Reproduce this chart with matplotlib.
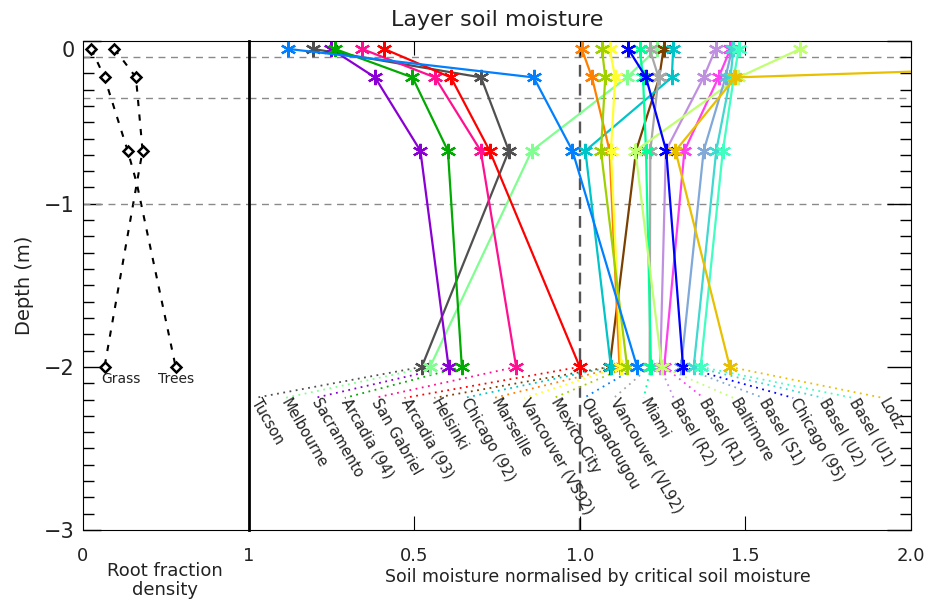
import matplotlib
matplotlib.use('Agg')
import matplotlib.pyplot as plt
from matplotlib.ticker import MultipleLocator
from matplotlib.transforms import ScaledTranslation
import numpy as np

# soil layer midpoints and boundaries (m)
layer_depth = [-0.05, -0.225, -0.675, -2.0]
layer_edges = [-0.1, -0.35, -1.0]

# root fraction density profiles
root_depth = [-0.05, -0.225, -0.675, -0.875, -2.0]
grass_root = [0.05, 0.13, 0.27, 0.325, 0.13]
trees_root = [0.19, 0.32, 0.36, 0.325, 0.56]

# sites in label order (sorted by deepest layer)
sites = ['Tucson', 'Melbourne', 'Sacramento', 'Arcadia (94)', 'San Gabriel',
         'Arcadia (93)', 'Helsinki', 'Chicago (92)', 'Marseille',
         'Vancouver (VS92)', 'Mexico City', 'Ouagadougou', 'Vancouver (VL92)',
         'Miami', 'Basel (R2)', 'Basel (R1)', 'Baltimore', 'Basel (S1)',
         'Chicago (95)', 'Basel (U2)', 'Basel (U1)', 'Lodz']
colours = ['#505050', '#80ff90', '#8a00d4', '#00aa00', '#ff1090',
           '#ff0000', '#7a4000', '#00c4c8', '#ff8000',
           '#ffff30', '#a0d000', '#0080ff', '#a8a8a8',
           '#00ff98', '#c090e0', '#ff40f0', '#c0ff70', '#80a8d8',
           '#0000ff', '#40d8d0', '#40ffc0', '#e8c000']

# soil moisture / critical soil moisture for the 4 layers
sm_l1 = [0.194, 1.233, 0.249, 0.26, 0.342, 0.409, 1.253, 1.282, 1.006,
         1.09, 1.067, 0.118, 1.211, 1.181, 1.41, 1.455, 1.666, 1.46,
         1.146, 1.464, 1.48, 4.1]
sm_l2 = [0.702, 1.142, 0.382, 0.495, 0.563, 0.611, 1.24, 1.278, 1.037,
         1.107, 1.077, 0.861, 1.238, 1.191, 1.374, 1.419, 1.479, 1.44,
         1.2, 1.455, 1.465, 1.47]
sm_l3 = [0.786, 0.855, 0.519, 0.602, 0.701, 0.728, 1.17, 1.017, 1.09,
         1.094, 1.064, 0.978, 1.213, 1.20, 1.26, 1.316, 1.168, 1.374,
         1.261, 1.412, 1.432, 1.289]
sm_l4 = [0.523, 0.548, 0.604, 0.644, 0.808, 1.0, 1.09, 1.094, 1.12,
         1.125, 1.143, 1.173, 1.211, 1.215, 1.243, 1.255, 1.248, 1.306,
         1.312, 1.344, 1.365, 1.453]

txt = '#222222'
W, H = 942, 601
fig = plt.figure(figsize=(W / 100, H / 100), dpi=100)
bot = 1 - 530 / H
hgt = 489.3 / H
ax_r = fig.add_axes([83 / W, bot, 165.5 / W, hgt])
ax_s = fig.add_axes([248.5 / W, bot, 662.5 / W, hgt])

# ---- root panel
for prof in [grass_root, trees_root]:
    ax_r.plot(prof, root_depth, color='k', lw=1.5, ls=(0, (3, 4)),
              marker='D', ms=5, mfc='white', mec='k', mew=1.8,
              markevery=[0, 1, 2, 4])
ax_r.text(0.11, -2.03, 'Grass', ha='left', va='top', fontsize=10, color=txt)
ax_r.text(trees_root[-1], -2.03, 'Trees', ha='center', va='top', fontsize=10, color=txt)
ax_r.set_xlim(0, 1)
ax_r.set_ylim(-3, 0)
ax_r.set_xticks([0, 1])
ax_r.set_xticklabels(['0', '1'])
ax_r.set_yticks([0, -1, -2, -3])
ax_r.set_yticklabels(['0', '\u22121', '\u22122', '\u22123'])
ax_r.yaxis.set_minor_locator(MultipleLocator(0.1))
ax_r.tick_params(axis='y', which='major', direction='in', length=13, width=1,
                 labelsize=15, labelcolor=txt, pad=6)
ax_r.tick_params(axis='y', which='minor', direction='in', length=8, width=1)
ax_r.tick_params(axis='x', length=0, labelsize=13, labelcolor=txt, pad=12)
for d in layer_edges:
    ax_r.axhline(d, color='#8a8a8a', lw=1, ls=(0, (5, 4)))

# ---- soil moisture panel
for i in range(len(sites)):
    vals = [sm_l1[i], sm_l2[i], sm_l3[i], sm_l4[i]]
    ax_s.plot(vals, layer_depth, color=colours[i], lw=1.6,
              marker=(6, 2, 0), ms=11, mew=1.6, zorder=3)

lab_x = np.linspace(0.02, 1.915, len(sites))
for i in range(len(sites)):
    ax_s.plot([sm_l4[i], lab_x[i]], [-2.0, -2.19], color=colours[i],
              ls=(0, (1, 2.5)), lw=1.3, zorder=2)
    ax_s.text(lab_x[i], -2.2, sites[i], rotation=-60, rotation_mode='anchor',
              ha='left', va='center', fontsize=10.5, color=txt)

for d in layer_edges:
    ax_s.axhline(d, color='#8a8a8a', lw=1, ls=(0, (5, 4)), zorder=1)
ax_s.axvline(1.0, color='#555555', lw=1.7, ls=(0, (5, 3)), zorder=1)

ax_s.set_xlim(0, 2)
ax_s.set_ylim(-3, 0)
ax_s.set_xticks([0.5, 1.0, 1.5, 2.0])
ax_s.set_xticklabels(['0.5', '1.0', '1.5', '2.0'])
ax_s.tick_params(axis='x', direction='in', length=10, top=True, bottom=True,
                 labelsize=13, labelcolor=txt, pad=12)
ax_s.set_yticks([0, -1, -2, -3])
ax_s.yaxis.set_minor_locator(MultipleLocator(0.1))
ax_s.tick_params(axis='y', which='major', direction='in', left=False, right=True,
                 labelleft=False, length=17, width=1)
ax_s.tick_params(axis='y', which='minor', direction='in', left=False, right=True,
                 length=8, width=1)
ax_s.spines['left'].set_linewidth(2)

fig.text(497 / W, 1 - 20 / H, 'Layer soil moisture', ha='center', va='center',
         fontsize=16, color=txt)
fig.text(25 / W, 1 - 285 / H, 'Depth (m)', rotation=90, ha='center', va='center',
         fontsize=14, color=txt)
fig.text(165 / W, 1 - 571 / H, 'Root fraction', ha='center', va='center',
         fontsize=13, color=txt)
fig.text(165 / W, 1 - 590 / H, 'density', ha='center', va='center',
         fontsize=13, color=txt)
fig.text(598 / W, 1 - 577 / H, 'Soil moisture normalised by critical soil moisture',
         ha='center', va='center', fontsize=12.5, color=txt)

# IDL puts the top depth label a little below the axis edge
fig.canvas.draw()
lbl0 = ax_r.get_yticklabels()[0]
lbl0.set_transform(lbl0.get_transform() + ScaledTranslation(0, -0.08, fig.dpi_scale_trans))

fig.savefig('out.png', dpi=100)
